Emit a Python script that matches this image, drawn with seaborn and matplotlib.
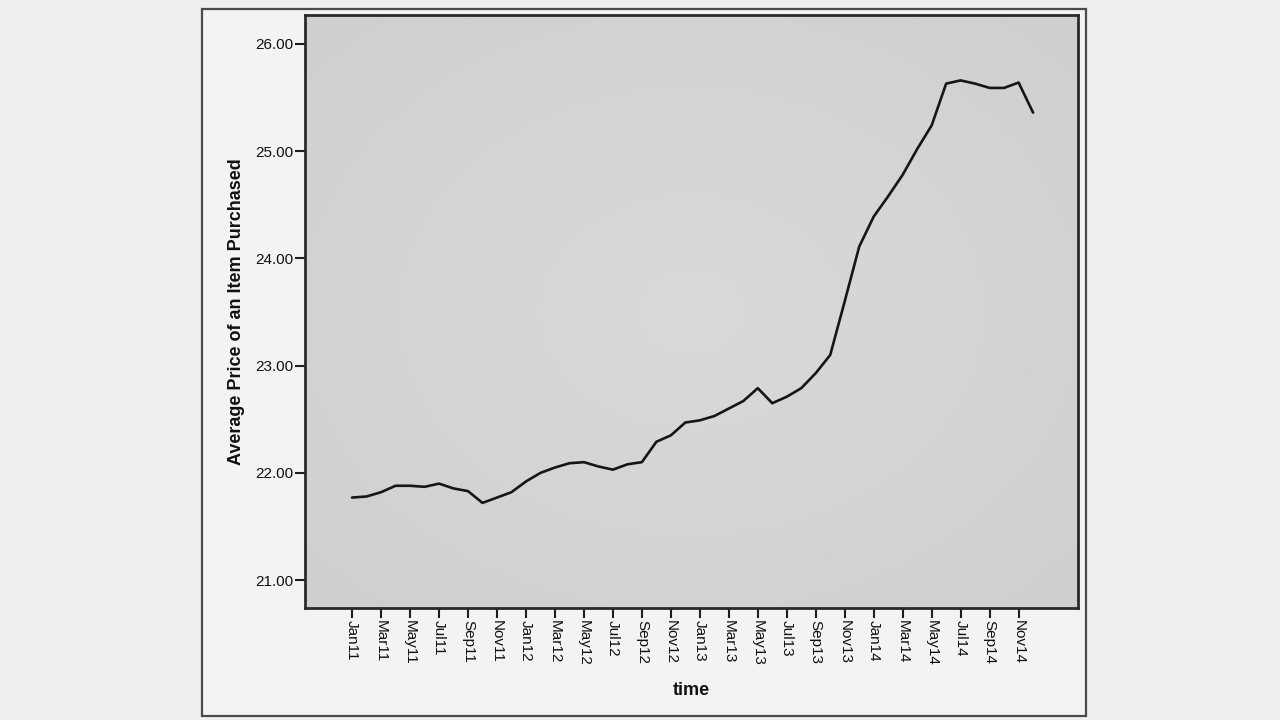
import numpy as np
import pandas as pd
import matplotlib
matplotlib.use("Agg")
import matplotlib.pyplot as plt
import seaborn as sns
from matplotlib.patches import Rectangle
from matplotlib.colors import LinearSegmentedColormap

# Datos mensuales (Jan11 - Dec14)
meses = ["Jan11", "Feb11", "Mar11", "Apr11", "May11", "Jun11", "Jul11", "Aug11",
         "Sep11", "Oct11", "Nov11", "Dec11",
         "Jan12", "Feb12", "Mar12", "Apr12", "May12", "Jun12", "Jul12", "Aug12",
         "Sep12", "Oct12", "Nov12", "Dec12",
         "Jan13", "Feb13", "Mar13", "Apr13", "May13", "Jun13", "Jul13", "Aug13",
         "Sep13", "Oct13", "Nov13", "Dec13",
         "Jan14", "Feb14", "Mar14", "Apr14", "May14", "Jun14", "Jul14", "Aug14",
         "Sep14", "Oct14", "Nov14", "Dec14"]

precio = [21.77, 21.78, 21.82, 21.88, 21.88, 21.87, 21.90, 21.855,
          21.83, 21.72, 21.77, 21.82,
          21.92, 22.00, 22.05, 22.09, 22.10, 22.06, 22.03, 22.08,
          22.10, 22.29, 22.35, 22.47,
          22.49, 22.53, 22.60, 22.67, 22.79, 22.65, 22.71, 22.79,
          22.93, 23.10, 23.60, 24.11,
          24.39, 24.58, 24.78, 25.02, 25.24, 25.63, 25.66, 25.63,
          25.59, 25.59, 25.64, 25.36]

etiquetas_x = ["Jan11", "Mar11", "May11", "Jul11", "Sep11", "Nov11",
               "Jan12", "Mar12", "May12", "Jul12", "Sep12", "Nov12",
               "Jan13", "Mar13", "May13", "Jul13", "Sep13", "Nov13",
               "Jan14", "Mar14", "May14", "Jul14", "Sep14", "Nov14"]

etiquetas_y = [21.00, 22.00, 23.00, 24.00, 25.00, 26.00]

df = pd.DataFrame({"mes": meses, "precio": precio})
df["pos"] = np.arange(len(df))

sns.set_style("white")
plt.rcParams["font.family"] = ["Liberation Sans", "DejaVu Sans"]

fig = plt.figure(figsize=(12.8, 7.2), dpi=100, facecolor="#efefef")

# Marco exterior estilo SPSS
fig.patches.append(Rectangle((202 / 1280, 1 - 716 / 720), (1086 - 202) / 1280, (716 - 9) / 720,
                             transform=fig.transFigure, facecolor="#f3f3f3",
                             edgecolor="#4a4a4a", linewidth=1.6, zorder=-10))

ax = fig.add_axes([305 / 1280, 1 - 608 / 720, (1078 - 305) / 1280, (608 - 15) / 720])
ax.set_zorder(5)

# Fondo gris con un degradado suave (más claro al centro)
xlim = (-3.25, 50.1)
ylim = (20.74, 26.27)
gx, gy = np.meshgrid(np.linspace(-1, 1, 200), np.linspace(-1, 1, 200))
fondo = np.clip(np.sqrt(gx ** 2 + gy ** 2) / 1.4, 0, 1)
cmap_fondo = LinearSegmentedColormap.from_list("fondo", ["#dadada", "#cfcfcf"])
ax.imshow(fondo, extent=(*xlim, *ylim), aspect="auto", cmap=cmap_fondo,
          origin="lower", zorder=0, interpolation="bilinear")

sns.lineplot(data=df, x="pos", y="precio", ax=ax, color="#161616", linewidth=1.9, zorder=3)

pos_ticks = [meses.index(m) for m in etiquetas_x]
ax.set_xticks(pos_ticks)
ax.set_xticklabels(etiquetas_x, rotation=270, fontsize=11, va="top", ha="center")
ax.set_yticks(etiquetas_y)
ax.set_yticklabels([f"{v:.2f}" for v in etiquetas_y], fontsize=11)

ax.set_xlim(*xlim)
ax.set_ylim(*ylim)

ax.tick_params(axis="both", direction="out", length=7, width=1.5, color="#1e1e1e",
               labelcolor="#111111", pad=1.5, bottom=True, left=True)

for lado in ax.spines.values():
    lado.set_visible(True)
    lado.set_color("#2a2a2a")
    lado.set_linewidth(2.0)

ax.set_xlabel("time", fontsize=13, fontweight="bold", labelpad=12, color="#111111")
ax.set_ylabel("Average Price of an Item Purchased", fontsize=13, fontweight="bold",
              labelpad=7, color="#111111")

fig.savefig("out.png", dpi=100, facecolor=fig.get_facecolor())
plt.close(fig)
